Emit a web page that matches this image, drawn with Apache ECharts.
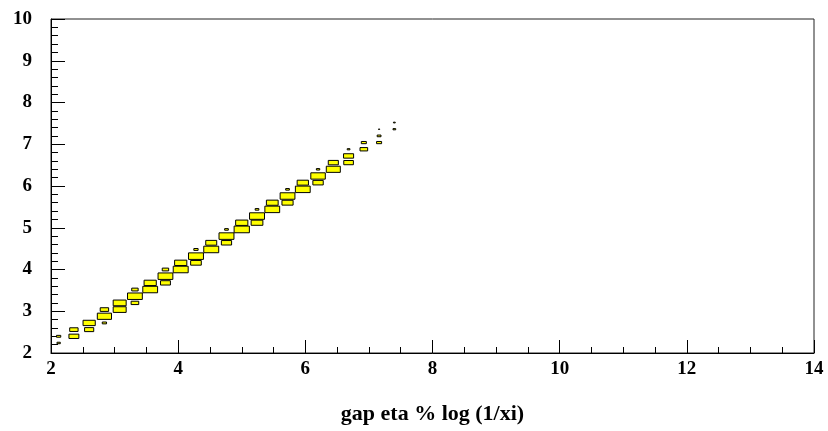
<!DOCTYPE html>
<html><head><meta charset="utf-8">
<script src="https://cdn.jsdelivr.net/npm/echarts@6/dist/echarts.min.js"></script>
<style>html,body{margin:0;padding:0;background:#fff}#c{width:828px;height:431px}</style>
</head><body><div id="c"></div>
<script>
// 2D histogram: 50 x-bins over [2,14], 50 y-bins over [2,10]
const xBinWidth = 0.24;
const yBinWidth = 0.16;
const xTitle = 'gap eta % log (1/xi)';

// filled cells: bin centre x, bin centre y, bin content
const cellX = [2.12,2.12, 2.36,2.36, 2.60,2.60, 2.84,2.84,2.84, 3.08,3.08, 3.32,3.32,3.32,
  3.56,3.56, 3.80,3.80,3.80, 4.04,4.04, 4.28,4.28,4.28, 4.52,4.52, 4.76,4.76,4.76,
  5.00,5.00, 5.24,5.24,5.24, 5.48,5.48, 5.72,5.72,5.72, 5.96,5.96, 6.20,6.20,6.20,
  6.44,6.44, 6.68,6.68,6.68, 6.92,6.92, 7.16,7.16,7.16, 7.40,7.40];
const cellY = [2.24,2.40, 2.40,2.56, 2.56,2.72, 2.72,2.88,3.04, 3.04,3.20, 3.20,3.36,3.52,
  3.52,3.68, 3.68,3.84,4.00, 4.00,4.16, 4.16,4.32,4.48, 4.48,4.64, 4.64,4.80,4.96,
  4.96,5.12, 5.12,5.28,5.44, 5.44,5.60, 5.60,5.76,5.92, 5.92,6.08, 6.08,6.24,6.40,
  6.40,6.56, 6.56,6.72,6.88, 6.88,7.04, 7.04,7.20,7.36, 7.36,7.52];
const cellCount = [48,78, 423,303, 360,640, 78,865,303, 723,723, 250,941,176,
  941,640, 423,941,176, 960,640, 490,960,78, 960,518, 449,960,58,
  1000,640, 593,960,58, 941,593, 533,941,58, 941,548, 462,903,48,
  846,436, 397,436,32, 250,109, 109,63,6, 32,14];

const maxCount = Math.max(...cellCount);
const data = cellX.map((x, i) => [x, cellY[i], cellCount[i]]);

const font = 'Liberation Serif';
const chart = echarts.init(document.getElementById('c'), null, {renderer: 'canvas'});
chart.setOption({
  animation: false,
  grid: {left: 51, right: 14, top: 19, bottom: 78, show: true, borderColor: '#222', borderWidth: 1, backgroundColor: '#fff'},
  xAxis: {
    type: 'value', min: 2, max: 14, interval: 2,
    name: xTitle, nameLocation: 'middle', nameGap: 50,
    nameTextStyle: {fontFamily: font, fontWeight: 'bold', fontSize: 22, color: '#000'},
    axisLine: {onZero: false, lineStyle: {color: '#000', width: 1}},
    axisTick: {inside: true, length: 13, lineStyle: {color: '#000'}},
    minorTick: {show: true, splitNumber: 4, length: 6, lineStyle: {color: '#000'}},
    splitLine: {show: false},
    axisLabel: {fontFamily: font, fontWeight: 'bold', fontSize: 19, color: '#000', margin: 7, showMaxLabel: true, showMinLabel: true}
  },
  yAxis: {
    type: 'value', min: 2, max: 10, interval: 1,
    axisLine: {onZero: false, lineStyle: {color: '#000', width: 1}},
    axisTick: {inside: true, length: 14, lineStyle: {color: '#000'}},
    minorTick: {show: true, splitNumber: 5, length: 7, lineStyle: {color: '#000'}},
    splitLine: {show: false},
    axisLabel: {fontFamily: font, fontWeight: 'bold', fontSize: 19, color: '#000', margin: 19, showMaxLabel: true, showMinLabel: true}
  },
  series: [{
    type: 'custom',
    data: data,
    encode: {x: 0, y: 1},
    renderItem: function (params, api) {
      const r = Math.sqrt(api.value(2) / maxCount);
      const c = api.coord([api.value(0), api.value(1)]);
      const s = api.size([xBinWidth, yBinWidth]);
      const w = s[0] * r, h = s[1] * r;
      return {
        type: 'rect',
        shape: {x: c[0] - w / 2, y: c[1] - h / 2, width: w, height: h},
        style: {fill: '#ffff00', stroke: '#000', lineWidth: 1}
      };
    }
  }]
});
</script>
</body></html>
